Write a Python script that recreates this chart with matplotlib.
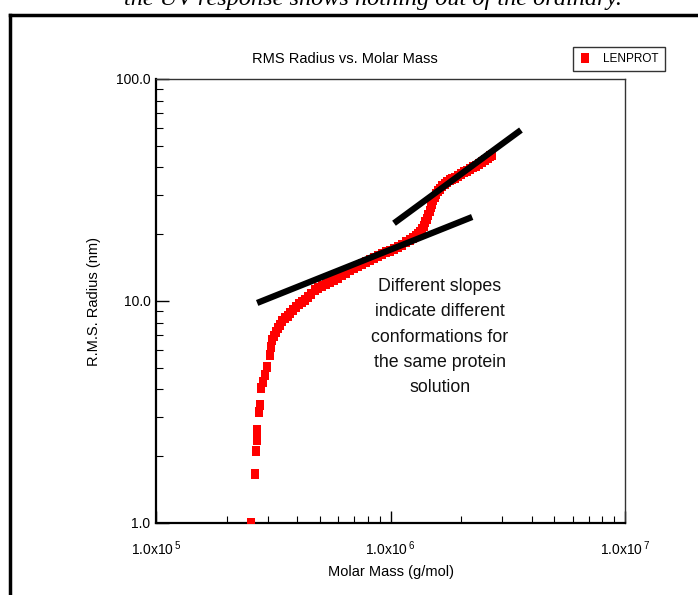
import matplotlib
matplotlib.use("Agg")
import matplotlib.pyplot as plt
from matplotlib.lines import Line2D
from matplotlib.ticker import FixedLocator, LogLocator, NullFormatter, FixedFormatter

plt.rcParams['font.family'] = ['Liberation Sans', 'DejaVu Sans']
plt.rcParams['mathtext.fontset'] = 'custom'
plt.rcParams['mathtext.rm'] = 'Liberation Sans'
plt.rcParams['mathtext.it'] = 'Liberation Sans:italic'
plt.rcParams['mathtext.bf'] = 'Liberation Sans:bold'

# ---- data ----
molar_mass = [2.55e5, 2.64e5, 2.67e5, 2.70e5, 2.70e5, 2.75e5, 2.78e5, 2.81e5, 2.86e5,
              2.92e5, 2.97e5, 3.06e5, 3.09e5, 3.12e5, 3.18e5, 3.25e5, 3.31e5, 3.38e5,
              3.46e5, 3.55e5, 3.64e5, 3.73e5, 3.84e5, 3.95e5, 4.07e5, 4.19e5, 4.32e5,
              4.45e5, 4.60e5, 4.76e5, 4.93e5, 5.10e5, 5.31e5, 5.52e5, 5.74e5, 5.97e5,
              6.21e5, 6.46e5, 6.72e5, 6.99e5, 7.27e5, 7.56e5, 7.86e5, 8.18e5, 8.50e5,
              8.84e5, 9.20e5, 9.57e5, 9.95e5, 1.035e6, 1.077e6, 1.12e6, 1.165e6, 1.21e6,
              1.245e6, 1.28e6, 1.31e6, 1.34e6, 1.365e6, 1.39e6, 1.41e6, 1.43e6, 1.45e6,
              1.47e6, 1.485e6, 1.50e6, 1.525e6, 1.55e6, 1.57e6, 1.59e6, 1.625e6, 1.66e6,
              1.70e6, 1.74e6, 1.785e6, 1.83e6, 1.885e6, 1.94e6, 2.00e6, 2.06e6, 2.12e6,
              2.18e6, 2.25e6, 2.32e6, 2.39e6, 2.46e6, 2.53e6, 2.60e6, 2.655e6, 2.71e6]
rms_radius = [1.0, 1.66, 2.11, 2.37, 2.62, 3.16, 3.40, 4.06, 4.32,
              4.64, 5.05, 5.71, 6.20, 6.67, 6.95, 7.25, 7.52, 7.80,
              8.10, 8.38, 8.60, 8.83, 9.12, 9.40, 9.65, 9.90, 10.15,
              10.4, 10.8, 11.2, 11.45, 11.7, 11.95, 12.2, 12.45, 12.7,
              13.05, 13.4, 13.75, 14.1, 14.4, 14.7, 15.0, 15.3, 15.6,
              15.9, 16.25, 16.6, 16.85, 17.1, 17.5, 17.9, 18.35, 18.8,
              19.2, 19.6, 20.05, 20.5, 21.1, 21.8, 22.6, 23.4, 24.4,
              25.4, 26.4, 27.4, 28.4, 29.4, 30.3, 31.3, 32.1, 33.0,
              33.7, 34.4, 34.9, 35.4, 36.0, 36.6, 37.3, 38.1, 38.7,
              39.3, 40.0, 40.6, 41.4, 42.3, 43.2, 44.1, 44.8, 45.5]

fit_low_mass = [2.70e5, 2.23e6]
fit_low_radius = [9.8, 23.9]
fit_high_mass = [1.035e6, 3.60e6]
fit_high_radius = [22.4, 58.9]

x_ticks = [1e5, 1e6, 1e7]
x_tick_labels = [r'1.0x10$^{\,5}$', r'1.0x10$^{\,6}$', r'1.0x10$^{\,7}$']
y_ticks = [1, 10, 100]
y_tick_labels = ['1.0', '10.0', '100.0']

W, H = 698, 595
fig = plt.figure(figsize=(W / 100, H / 100), dpi=100)
ax = fig.add_axes([156 / W, 1 - 523 / H, (625 - 156) / W, (523 - 79) / H])
ax.set_xscale('log')
ax.set_yscale('log')
ax.set_xlim(1e5, 1e7)
ax.set_ylim(1, 100)

rect = [(-0.4, -0.5), (0.4, -0.5), (0.4, 0.5), (-0.4, 0.5), (-0.4, -0.5)]
ax.plot(molar_mass, rms_radius, linestyle='none', marker=rect, markersize=6.5,
        color='#ff0000', markeredgewidth=0, label='LENPROT', zorder=3)

ax.plot(fit_low_mass, fit_low_radius, color='black', linewidth=4.5,
        solid_capstyle='butt', zorder=4)
ax.plot(fit_high_mass, fit_high_radius, color='black', linewidth=4.5,
        solid_capstyle='butt', zorder=4)

ax.xaxis.set_major_locator(FixedLocator(x_ticks))
ax.xaxis.set_major_formatter(FixedFormatter(x_tick_labels))
ax.xaxis.set_minor_locator(LogLocator(base=10, subs=range(2, 10)))
ax.xaxis.set_minor_formatter(NullFormatter())
ax.yaxis.set_major_locator(FixedLocator(y_ticks))
ax.yaxis.set_major_formatter(FixedFormatter(y_tick_labels))
ax.yaxis.set_minor_locator(LogLocator(base=10, subs=range(2, 10)))
ax.yaxis.set_minor_formatter(NullFormatter())

ax.tick_params(which='both', direction='in', top=False, right=False, colors='black')
ax.tick_params(which='major', length=9, width=1.0)
ax.tick_params(which='minor', length=5, width=0.8)
ax.tick_params(axis='x', which='major', labelsize=10, pad=12)
ax.tick_params(axis='y', which='major', labelsize=10, pad=4)

for s in ['left', 'bottom']:
    ax.spines[s].set_linewidth(1.6)
for s in ['top', 'right']:
    ax.spines[s].set_linewidth(1.0)
    ax.spines[s].set_color('#333333')

ax.set_xlabel('Molar Mass (g/mol)', fontsize=10.5, labelpad=5)
ax.set_ylabel('R.M.S. Radius (nm)', fontsize=10.5, labelpad=11)

fig.text(345 / W, 1 - 59 / H, 'RMS Radius vs. Molar Mass', fontsize=10.5,
         ha='center', va='center')

ax.text(440 / W, 1 - 337 / H,
        'Different slopes\nindicate different\nconformations for\nthe same protein\nsolution',
        transform=fig.transFigure, fontsize=12.8, ha='center', va='center',
        linespacing=1.62, color='#111111')

leg = fig.legend(loc='center', bbox_to_anchor=(619 / W, 1 - 59 / H), fontsize=8.5,
                 frameon=True, fancybox=False, edgecolor='black', numpoints=1,
                 handlelength=0.9, handletextpad=1.1, borderpad=0.55,
                 borderaxespad=0, markerscale=1.0)
leg.get_frame().set_linewidth(1.0)

# cut-off caption text and outer frame
fig.text(373 / W, 1 - 5 / H, 'the UV response shows nothing out of the ordinary.',
         fontsize=17.5, family='Liberation Serif', style='italic', ha='center',
         va='baseline')
fig.add_artist(Line2D([10 / W, 10 / W], [0, 1 - 15 / H], color='black', linewidth=2.5,
                      transform=fig.transFigure))
fig.add_artist(Line2D([10 / W, 1], [1 - 15 / H, 1 - 15 / H], color='black', linewidth=2.5,
                      transform=fig.transFigure))

fig.savefig('out.png', dpi=100)
